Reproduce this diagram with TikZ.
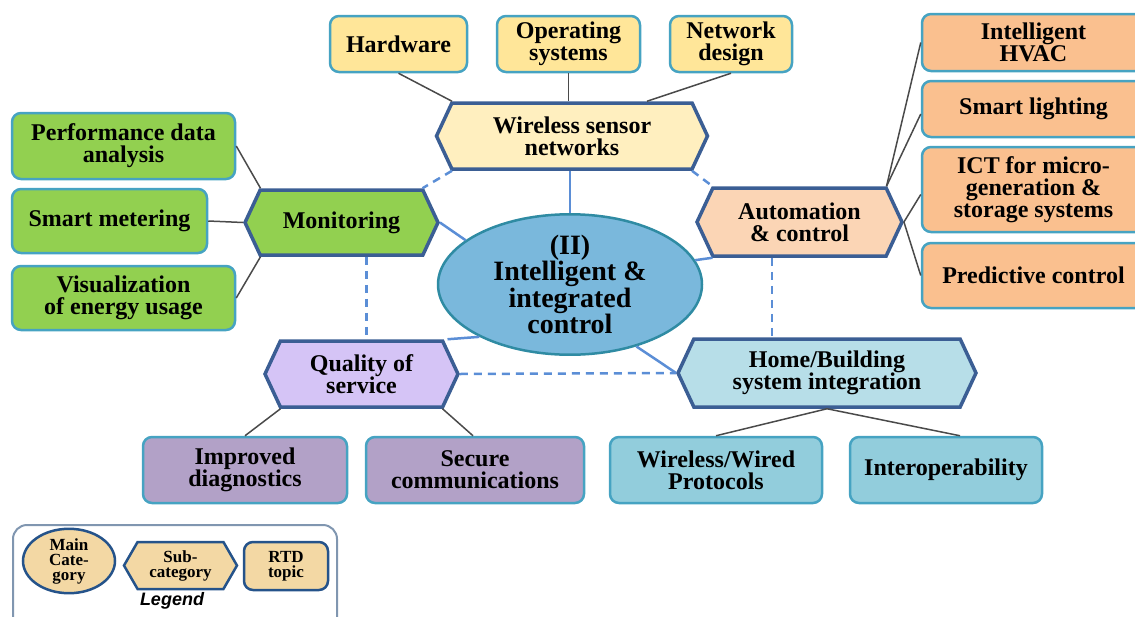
\documentclass[tikz,border=0pt]{standalone}
\usepackage{fontspec}
\setmainfont{Liberation Serif}
\newfontfamily\legendsans{Liberation Sans}
\usetikzlibrary{shapes.symbols,shapes.geometric,calc}
\definecolor{boxline}{HTML}{46A3C2}
\definecolor{hexline}{HTML}{3B5E94}
\definecolor{blueline}{HTML}{5B8ED6}
\definecolor{greyline}{HTML}{4A4A4A}
\definecolor{topyellow}{HTML}{FFE699}
\definecolor{wsnyellow}{HTML}{FFEFBF}
\definecolor{green1}{HTML}{92D050}
\definecolor{autofill}{HTML}{FBD5B5}
\definecolor{orange1}{HTML}{FAC08F}
\definecolor{qosfill}{HTML}{D5C4F6}
\definecolor{purple1}{HTML}{B2A1C7}
\definecolor{homefill}{HTML}{B7DEE8}
\definecolor{blue1}{HTML}{92CDDC}
\definecolor{ellfill}{HTML}{7AB8DC}
\definecolor{ellline}{HTML}{2F8BA3}
\definecolor{legfill}{HTML}{F3D8A4}
\definecolor{legline}{HTML}{25538A}
\definecolor{legframe}{HTML}{8096B0}
\begin{document}
\begin{tikzpicture}[x=1pt,y=-1pt,
  txt/.style={align=center, inner sep=0pt, font=\fontsize{24}{22}\selectfont\bfseries},
  box/.style={txt, draw=boxline, line width=2.5pt, rounded corners=9pt},
  hexa/.style={txt, shape=signal, signal to=west and east, signal pointer angle=130,
    draw=hexline, line width=3.5pt},
  solidc/.style={draw=blueline, line width=2.5pt},
  dashc/.style={draw=blueline, line width=2.5pt, dash pattern=on 8pt off 6pt},
  thinc/.style={draw=greyline, line width=1.5pt},
  legtxt/.style={align=center, inner sep=0pt, font=\fontsize{17}{15}\selectfont\bfseries},
]
\useasboundingbox (0,0) rectangle (1135,616);
\clip (0,0) rectangle (1135,616);

% top boxes
\node[box, fill=topyellow, minimum width=137pt, minimum height=56pt] (hw) at (398.5,44) {Hardware};
\node[box, fill=topyellow, minimum width=143pt, minimum height=56pt] (os) at (568.5,44) {Operating\\systems};
\node[box, fill=topyellow, minimum width=122pt, minimum height=56pt] (nd) at (731,44) {Network\\design};

% sub-categories
\node[hexa, fill=wsnyellow, minimum width=271pt, minimum height=66pt] (wsn) at (572,136) {Wireless sensor\\networks};
\node[hexa, fill=green1, minimum width=193pt, minimum height=65pt] (mon) at (341.5,222.5) {Monitoring};
\node[hexa, fill=autofill, minimum width=205pt, minimum height=68pt] (auto) at (799.5,222) {Automation\\\& control};
\node[hexa, fill=qosfill, minimum width=193pt, minimum height=66pt] (qos) at (361.5,374) {Quality of\\service};
\node[hexa, fill=homefill, minimum width=298pt, minimum height=68pt] (home) at (827,373) {Home/Building\\system integration};

% main category
\node[ellipse, draw=ellline, line width=2.5pt, fill=ellfill, minimum width=264pt, minimum height=127pt,
  inner sep=0pt, align=center, font=\fontsize{28}{25}\selectfont\bfseries] (ell) at (570,284.5)
  {(II)\\Intelligent \&\\integrated\\control};

% green topics
\node[box, fill=green1, minimum width=223pt, minimum height=66pt] (perf) at (123.5,146) {Performance data\\analysis};
\node[box, fill=green1, minimum width=195pt, minimum height=64pt] (sm) at (109.5,221) {Smart metering};
\node[box, fill=green1, minimum width=223pt, minimum height=64pt] (vis) at (123.5,298) {Visualization\\of energy usage};

% orange topics
\node[box, fill=orange1, minimum width=223pt, minimum height=57pt] (hvac) at (1033.5,42.5) {Intelligent\\HVAC};
\node[box, fill=orange1, minimum width=223pt, minimum height=56pt] (sl) at (1033.5,109) {Smart lighting};
\node[box, fill=orange1, minimum width=223pt, minimum height=85pt] (ict) at (1033.5,189.5) {ICT for micro-\\generation \&\\storage systems};
\node[box, fill=orange1, minimum width=223pt, minimum height=65pt] (pc) at (1033.5,275.5) {Predictive control};

% bottom topics
\node[box, fill=purple1, minimum width=204pt, minimum height=66pt] (imp) at (245,470) {Improved\\diagnostics};
\node[box, fill=purple1, minimum width=218pt, minimum height=66pt] (sec) at (475,470) {Secure\\communications};
\node[box, fill=blue1, minimum width=212pt, minimum height=66pt] (wwp) at (716,470) {Wireless/Wired\\Protocols};
\node[box, fill=blue1, minimum width=192pt, minimum height=66pt] (iop) at (946,470) {Interoperability};

% solid blue connectors
\draw[solidc] (ell.north) -- (ell.north |- wsn.south);
\draw[solidc] (mon.east) -- (ell.157);
\draw[solidc] ($(auto.south)+(-87,0)$) -- (ell.11);
\draw[solidc] ($(qos.north)+(86,0)$) -- (ell.210);
\draw[solidc] (ell.-43) -- (home.west);

% dashed blue connectors
\draw[dashc] ($(wsn.south)+(-120,0)$) -- ($(mon.north)+(81,0)$);
\draw[dashc] ($(wsn.south)+(120,0)$) -- ($(auto.north)+(-87,0)$);
\draw[dashc] ($(mon.south)+(25,0)$) coordinate (m1) -- (m1 |- qos.north);
\draw[dashc] ($(auto.south)+(-27.5,0)$) coordinate (a1) -- (a1 |- home.north);
\draw[dashc] (qos.east) -- (home.west);

% thin grey connectors
\draw[thinc] (hw.south) -- ($(wsn.north)+(-120,0)$);
\draw[thinc] (os.south) -- (os.south |- wsn.north);
\draw[thinc] (nd.south) -- ($(wsn.north)+(75,0)$);
\draw[thinc] (perf.east) -- ($(mon.north)+(-81,0)$);
\draw[thinc] (sm.east) -- (mon.west);
\draw[thinc] (vis.east) -- ($(mon.south)+(-81,0)$);
\draw[thinc] ($(auto.north)+(87,0)$) -- (hvac.west);
\draw[thinc] ($(auto.north)+(87,0)$) -- ($(sl.west)+(0,5)$);
\draw[thinc] (auto.east) -- ($(ict.west)+(0,5)$);
\draw[thinc] (auto.east) -- (pc.west);
\draw[thinc] ($(qos.south)+(-81,0)$) -- (imp.north);
\draw[thinc] ($(qos.south)+(81,0)$) -- ($(sec.north)+(-2,0)$);
\draw[thinc] (home.south) -- (wwp.north);
\draw[thinc] (home.south) -- ($(iop.north)+(14,0)$);

% legend
\node[draw=legframe, line width=2pt, rounded corners=14pt, minimum width=324pt, minimum height=110pt, inner sep=0pt] (legframe) at (175,580) {};
\node[ellipse, draw=legline, line width=2.5pt, fill=legfill, minimum width=92pt, minimum height=56pt, inner sep=0pt, legtxt] (lmain) at (69,561) {Main\\Cate-\\gory};
\node[shape=signal, signal to=west and east, signal pointer angle=120, draw=legline, line width=2.5pt, fill=legfill, minimum width=113pt, minimum height=47pt, legtxt] (lsub) at (180.5,565.5) {Sub-\\category};
\node[draw=legline, line width=2.5pt, fill=legfill, rounded corners=9pt, minimum width=84pt, minimum height=48pt, legtxt] (lrtd) at (286,566) {RTD\\topic};
\node[font=\legendsans\fontsize{18}{18}\selectfont\bfseries\itshape, inner sep=0pt] (legtitle) at (172,601) {Legend};
\end{tikzpicture}
\end{document}
